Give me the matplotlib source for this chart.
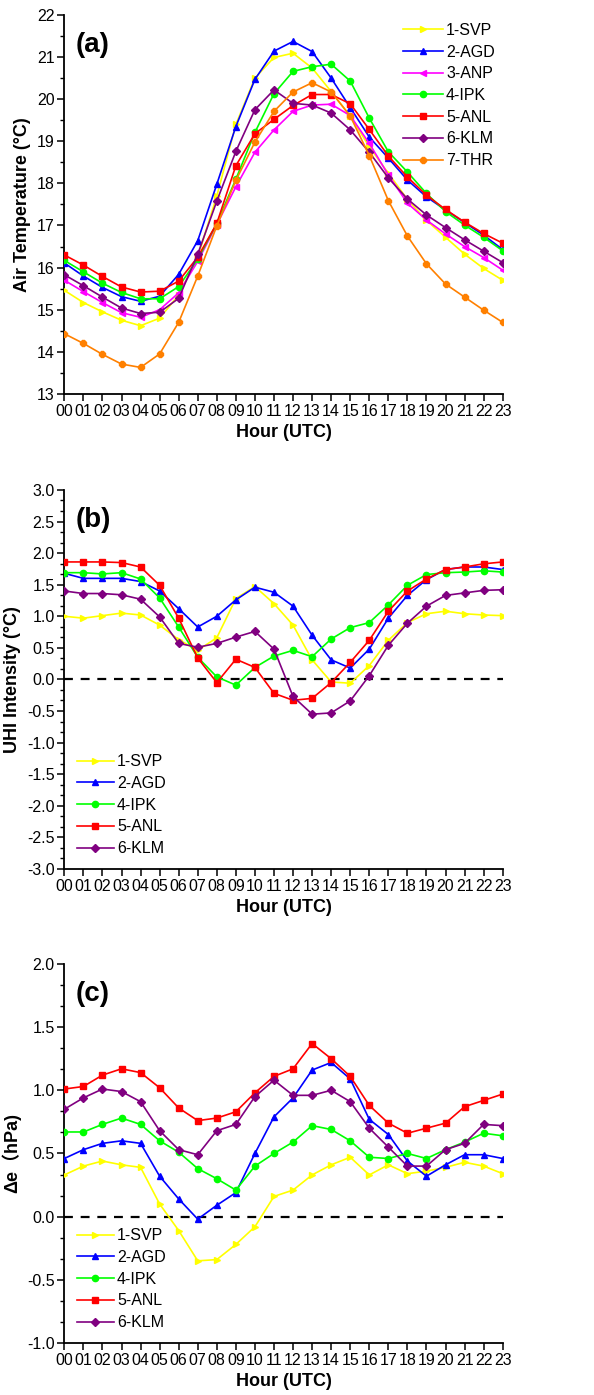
import matplotlib
matplotlib.use('Agg')
import matplotlib.pyplot as plt
from matplotlib.ticker import MultipleLocator
import numpy as np

plt.rcParams['font.family'] = ['Liberation Sans', 'DejaVu Sans']

# Hours (UTC)
HOURS = list(range(24))
HOUR_LABELS = ['%02d' % h for h in HOURS]

# (a) Air temperature (degC)
temp_svp = [15.46, 15.17, 14.95, 14.75, 14.62, 14.80, 15.35, 16.25, 17.70, 19.40, 20.50, 20.99,
            21.09, 20.74, 20.18, 19.60, 18.87, 18.24, 17.62, 17.12, 16.72, 16.32, 15.98, 15.70]
temp_agd = [16.11, 15.80, 15.53, 15.31, 15.20, 15.32, 15.84, 16.64, 17.98, 19.35, 20.47, 21.14,
            21.37, 21.13, 20.50, 19.80, 19.10, 18.60, 18.08, 17.68, 17.37, 17.07, 16.77, 16.43]
temp_anp = [15.70, 15.43, 15.17, 14.93, 14.82, 15.00, 15.40, 16.15, 17.02, 17.92, 18.74, 19.27,
            19.71, 19.86, 19.88, 19.61, 18.95, 18.20, 17.53, 17.13, 16.80, 16.50, 16.24, 15.94]
temp_ipk = [16.17, 15.90, 15.63, 15.41, 15.26, 15.26, 15.55, 16.20, 17.05, 18.10, 19.21, 20.13,
            20.66, 20.77, 20.83, 20.43, 19.55, 18.75, 18.27, 17.76, 17.33, 17.01, 16.72, 16.40]
temp_anl = [16.30, 16.06, 15.79, 15.54, 15.42, 15.44, 15.68, 16.25, 17.05, 18.42, 19.18, 19.52,
            19.85, 20.11, 20.11, 19.89, 19.28, 18.65, 18.15, 17.72, 17.38, 17.08, 16.81, 16.58]
temp_klm = [15.83, 15.57, 15.30, 15.04, 14.91, 14.94, 15.27, 16.32, 17.58, 18.76, 19.75, 20.22,
            19.90, 19.86, 19.67, 19.27, 18.74, 18.13, 17.63, 17.25, 16.95, 16.66, 16.39, 16.12]
temp_thr = [14.43, 14.20, 13.94, 13.71, 13.63, 13.95, 14.70, 15.80, 16.99, 18.07, 18.98, 19.71,
            20.17, 20.39, 20.17, 19.60, 18.66, 17.59, 16.75, 16.09, 15.61, 15.30, 14.99, 14.70]

# (b) UHI intensity (degC)
uhi_svp = [1.00, 0.97, 1.01, 1.05, 1.02, 0.86, 0.63, 0.46, 0.66, 1.28, 1.47, 1.20,
           0.86, 0.31, -0.04, -0.06, 0.22, 0.62, 0.90, 1.04, 1.08, 1.04, 1.02, 1.01]
uhi_agd = [1.68, 1.60, 1.60, 1.60, 1.55, 1.40, 1.12, 0.83, 1.00, 1.26, 1.46, 1.38,
           1.16, 0.70, 0.31, 0.18, 0.48, 0.97, 1.33, 1.58, 1.74, 1.78, 1.78, 1.74]
uhi_ipk = [1.69, 1.69, 1.67, 1.69, 1.59, 1.29, 0.83, 0.35, 0.04, -0.09, 0.19, 0.37,
           0.46, 0.36, 0.64, 0.82, 0.90, 1.18, 1.49, 1.66, 1.69, 1.70, 1.72, 1.70]
uhi_anl = [1.86, 1.86, 1.86, 1.85, 1.78, 1.49, 0.97, 0.34, -0.05, 0.32, 0.19, -0.22,
           -0.33, -0.30, -0.05, 0.27, 0.62, 1.08, 1.40, 1.59, 1.74, 1.78, 1.83, 1.86]
uhi_klm = [1.40, 1.36, 1.36, 1.34, 1.27, 0.99, 0.57, 0.51, 0.57, 0.67, 0.76, 0.48,
           -0.27, -0.55, -0.53, -0.34, 0.06, 0.54, 0.89, 1.16, 1.33, 1.37, 1.41, 1.42]

# (c) vapour pressure difference (hPa)
de_svp = [0.33, 0.40, 0.44, 0.41, 0.39, 0.10, -0.11, -0.35, -0.34, -0.22, -0.08, 0.16,
          0.21, 0.33, 0.41, 0.47, 0.33, 0.41, 0.34, 0.36, 0.39, 0.43, 0.40, 0.34]
de_agd = [0.46, 0.53, 0.58, 0.60, 0.58, 0.32, 0.14, -0.02, 0.09, 0.19, 0.50, 0.79,
          0.94, 1.16, 1.22, 1.09, 0.77, 0.65, 0.44, 0.32, 0.41, 0.49, 0.49, 0.46]
de_ipk = [0.67, 0.67, 0.73, 0.78, 0.73, 0.60, 0.51, 0.38, 0.30, 0.21, 0.40, 0.50,
          0.59, 0.72, 0.69, 0.60, 0.47, 0.46, 0.50, 0.46, 0.53, 0.59, 0.66, 0.64]
de_anl = [1.01, 1.03, 1.12, 1.17, 1.14, 1.02, 0.86, 0.76, 0.78, 0.83, 0.98, 1.11,
          1.17, 1.37, 1.25, 1.11, 0.88, 0.74, 0.66, 0.70, 0.74, 0.87, 0.92, 0.97]
de_klm = [0.85, 0.94, 1.01, 0.99, 0.91, 0.68, 0.53, 0.49, 0.68, 0.73, 0.95, 1.08,
          0.96, 0.96, 1.00, 0.91, 0.70, 0.55, 0.40, 0.40, 0.53, 0.58, 0.73, 0.72]

# station name -> (color, marker)
STYLE = {
    '1-SVP': ('#ffff00', '>'),
    '2-AGD': ('#0000ff', '^'),
    '3-ANP': ('#ff00ff', '<'),
    '4-IPK': ('#00ff00', 'o'),
    '5-ANL': ('#ff0000', 's'),
    '6-KLM': ('#800080', 'D'),
    '7-THR': ('#ff8000', '8'),
}

panels = [
    {'tag': '(a)', 'ylabel': 'Air Temperature (\u00b0C)', 'ylim': (13, 22), 'major': 1, 'minor': 0.5,
     'fmt': '%d', 'zero': False,
     'series': [('1-SVP', temp_svp), ('2-AGD', temp_agd), ('3-ANP', temp_anp), ('4-IPK', temp_ipk),
                ('5-ANL', temp_anl), ('6-KLM', temp_klm), ('7-THR', temp_thr)]},
    {'tag': '(b)', 'ylabel': 'UHI Intensity (\u00b0C)', 'ylim': (-3, 3), 'major': 0.5, 'minor': 0.5 / 3,
     'fmt': '%.1f', 'zero': True,
     'series': [('1-SVP', uhi_svp), ('2-AGD', uhi_agd), ('4-IPK', uhi_ipk),
                ('5-ANL', uhi_anl), ('6-KLM', uhi_klm)]},
    {'tag': '(c)', 'ylabel': '\u0394e\uff08hPa)', 'ylim': (-1, 2), 'major': 0.5, 'minor': 0.5 / 3,
     'fmt': '%.1f', 'zero': True,
     'series': [('1-SVP', de_svp), ('2-AGD', de_agd), ('4-IPK', de_ipk),
                ('5-ANL', de_anl), ('6-KLM', de_klm)]},
]

fig = plt.figure(figsize=(5.94, 13.95), dpi=100)

# axes boxes in figure fractions (left, bottom, width, height)
boxes = [(0.1083, 0.7176, 0.738, 0.2717),
         (0.1083, 0.3771, 0.738, 0.2717),
         (0.1083, 0.0373, 0.738, 0.2717)]

for p, box in zip(panels, boxes):
    ax = fig.add_axes(box)
    if p['zero']:
        ax.axhline(0, color='black', lw=1.6, ls=(0, (4, 3.5)), zorder=1)
    for name, vals in p['series']:
        color, marker = STYLE[name]
        ms = 4.3 if marker in ('D', '^', '<', '>') else 4.5
        ax.plot(HOURS, vals, color=color, marker=marker, ms=ms, lw=1.2, label=name, zorder=3)

    ax.set_xlim(0, 23)
    ax.set_ylim(*p['ylim'])
    ax.set_xticks(HOURS)
    ax.set_xticklabels(HOUR_LABELS)
    ax.yaxis.set_major_locator(MultipleLocator(p['major']))
    ax.yaxis.set_minor_locator(MultipleLocator(p['minor']))
    ax.yaxis.set_major_formatter(matplotlib.ticker.FormatStrFormatter(p['fmt']))

    # Origin-like frame: left and bottom only, ticks outward
    for side in ('top', 'right'):
        ax.spines[side].set_visible(False)
    for side in ('left', 'bottom'):
        ax.spines[side].set_linewidth(1.3)
    ax.tick_params(axis='both', which='major', direction='out', length=5, width=1.1,
                   labelsize=11.5, pad=2)
    ax.tick_params(axis='y', which='minor', direction='out', length=3, width=1.0)
    ax.tick_params(axis='x', which='minor', length=0)

    ax.set_xlabel('Hour (UTC)', fontsize=13, fontweight='bold', labelpad=4)
    if p['tag'] == '(c)':
        ax.set_ylabel(p['ylabel'], fontsize=13, fontweight='bold', labelpad=4,
                      family=['Liberation Sans', 'Noto Sans CJK SC', 'DejaVu Sans'])
    else:
        ax.set_ylabel(p['ylabel'], fontsize=13, fontweight='bold', labelpad=4)

    ax.text(0.025, 0.955, p['tag'], transform=ax.transAxes, fontsize=20, fontweight='bold',
            ha='left', va='top')

    if p['tag'] == '(a)':
        ax.legend(loc='upper right', bbox_to_anchor=(1.0, 1.0), frameon=False, fontsize=11.5,
                  handlelength=2.5, handletextpad=0.2, labelspacing=0.42, borderaxespad=0.1)
    else:
        ax.legend(loc='lower left', bbox_to_anchor=(0.0, 0.0), frameon=False, fontsize=11.5,
                  handlelength=2.3, handletextpad=0.2, labelspacing=0.42, borderaxespad=0.4)

fig.savefig('out.png', dpi=100)
